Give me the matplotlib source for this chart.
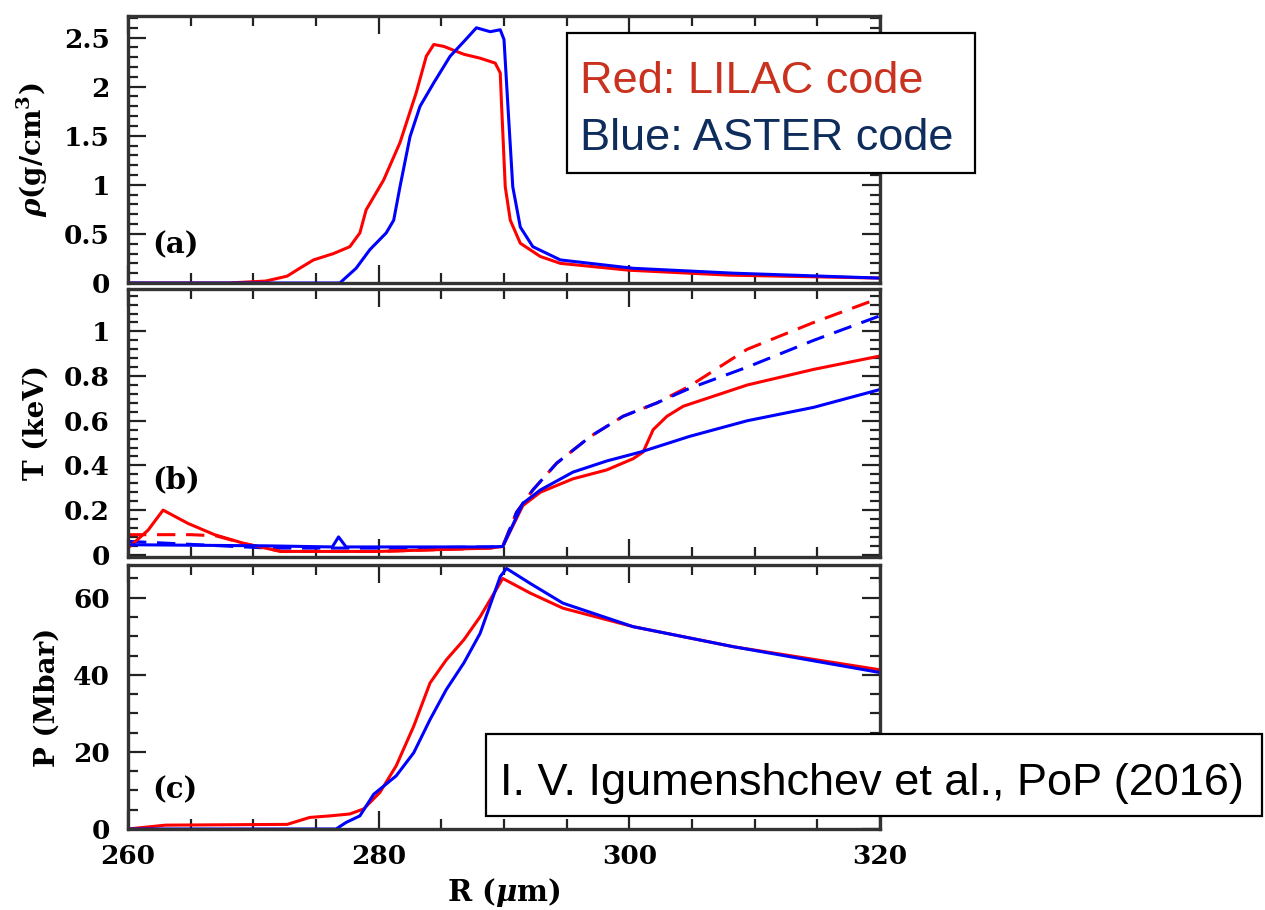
import numpy as np
import matplotlib.pyplot as plt
from matplotlib.ticker import MultipleLocator, FuncFormatter
from matplotlib.patches import Rectangle

# ---- data ----
# (a) density
r_rho_lilac = [260, 268, 271, 272.7, 273.7, 274.8, 276.4, 277.7, 278.5, 279.0, 280.4,
               281.7, 283.0, 283.8, 284.4, 285.2, 286.8, 288.1, 289.3, 289.7, 289.8,
               290.1, 290.5, 291.3, 292.9, 294.5, 300, 308, 320]
rho_lilac = [0, 0, 0.02, 0.07, 0.15, 0.235, 0.30, 0.37, 0.51, 0.745, 1.05,
             1.43, 1.94, 2.31, 2.43, 2.41, 2.33, 2.29, 2.24, 2.14, 1.83,
             0.98, 0.64, 0.405, 0.27, 0.20, 0.13, 0.08, 0.05]
r_rho_aster = [260, 276.9, 278.2, 279.3, 280.6, 281.2, 281.7, 282.5, 283.3, 284.4,
               285.7, 286.8, 287.8, 288.9, 289.7, 290.0, 290.3, 290.7, 291.3, 292.3,
               294.5, 300.3, 308.3, 320]
rho_aster = [0, 0, 0.15, 0.34, 0.51, 0.64, 0.98, 1.49, 1.80, 2.04,
             2.31, 2.46, 2.60, 2.56, 2.58, 2.48, 1.83, 0.98, 0.57, 0.37,
             0.235, 0.15, 0.10, 0.05]

# (b) temperature (solid / dashed)
r_T_lilac = [260, 261.6, 262.8, 264.8, 266.9, 269.3, 272.2, 280, 288.9, 289.9, 291.5,
             292.9, 295.5, 298.2, 300.3, 301.1, 301.9, 303, 304.3, 309.4, 314.7, 320]
T_lilac = [0.03, 0.11, 0.20, 0.14, 0.09, 0.05, 0.015, 0.015, 0.03, 0.037, 0.22,
           0.28, 0.34, 0.38, 0.43, 0.46, 0.56, 0.62, 0.665, 0.76, 0.83, 0.89]
r_T2_lilac = [260, 265, 267, 269.3, 272.2, 280, 288.9, 289.9, 291.0, 292.3, 294.2,
              296.9, 299.5, 302.2, 304.8, 309.4, 314.7, 320]
T2_lilac = [0.09, 0.09, 0.085, 0.05, 0.015, 0.015, 0.03, 0.037, 0.19, 0.29, 0.41,
            0.53, 0.62, 0.68, 0.755, 0.92, 1.04, 1.15]
r_T_aster = [260, 271, 276.3, 276.8, 277.4, 280, 288.9, 289.9, 291.5, 292.9, 295.5,
             298.2, 300.9, 304.8, 309.4, 314.7, 320]
T_aster = [0.045, 0.04, 0.035, 0.08, 0.035, 0.035, 0.035, 0.037, 0.23, 0.29, 0.37,
           0.42, 0.46, 0.53, 0.60, 0.66, 0.74]
r_T2_aster = [260, 271.2, 280, 288.9, 289.9, 291.0, 292.3, 294.2, 296.9, 299.5, 302.2,
              304.8, 309.4, 314.7, 320]
T2_aster = [0.06, 0.03, 0.03, 0.035, 0.037, 0.19, 0.29, 0.41, 0.53, 0.62, 0.68,
            0.745, 0.84, 0.96, 1.07]

# (c) pressure
r_P_lilac = [260, 263, 272.7, 274.5, 276.1, 277.7, 278.8, 280.1, 281.4, 282.8, 284.1,
             285.4, 286.8, 288.1, 289.9, 292.1, 294.7, 300.3, 308.3, 320]
P_lilac = [0, 1, 1.2, 3, 3.4, 3.9, 5.2, 9.5, 16.4, 26.7, 37.9,
           43.9, 49.1, 55.1, 65.0, 61.2, 57.3, 52.5, 47.3, 41.3]
r_P_aster = [260, 276.6, 277.4, 278.5, 279.6, 281.4, 282.8, 284.1, 285.4, 286.8, 288.1,
             289.7, 290.2, 292.1, 294.7, 300.3, 308.3, 320]
P_aster = [0, 0, 1.7, 3.4, 9.0, 13.8, 19.8, 28.4, 36.2, 43.1, 50.8,
           65.5, 67.6, 63.7, 58.6, 52.5, 47.3, 40.6]

SERIF = 'DejaVu Serif'
SANS = 'Liberation Sans'
plt.rcParams.update({
    'font.family': SERIF,
    'font.weight': 'bold',
    'axes.labelweight': 'bold',
    'mathtext.fontset': 'dejavuserif',
    'xtick.labelsize': 19,
    'ytick.labelsize': 19,
    'xtick.major.pad': 11,
    'ytick.major.pad': 13,
    'xtick.direction': 'in',
    'ytick.direction': 'in',
    'xtick.major.size': 13,
    'ytick.major.size': 13,
    'xtick.minor.size': 7,
    'ytick.minor.size': 7,
    'xtick.major.width': 1.6,
    'ytick.major.width': 1.6,
    'xtick.minor.width': 1.6,
    'ytick.minor.width': 1.6,
    'xtick.top': True,
    'ytick.right': True,
})
LW = 2.2
DASH = (0, (6, 3.5))

fig = plt.figure(figsize=(12.65, 9.10), dpi=100)
W, H = 1265, 910
left, width = 128 / W, 752 / W
ax_a = fig.add_axes([left, 1 - 283 / H, width, 267 / H])
ax_b = fig.add_axes([left, 1 - 557 / H, width, 268 / H])
ax_c = fig.add_axes([left, 1 - 829 / H, width, 264 / H])

fmt = FuncFormatter(lambda v, p: '%g' % v)


def style(ax, ymin, ymax, major, minor, label, labx, tag, tagy, xlabels):
    ax.set_xlim(260, 320)
    ax.set_ylim(ymin, ymax)
    ax.xaxis.set_major_locator(MultipleLocator(20))
    ax.xaxis.set_minor_locator(MultipleLocator(5))
    ax.yaxis.set_major_locator(MultipleLocator(major))
    ax.yaxis.set_minor_locator(MultipleLocator(minor))
    ax.yaxis.set_major_formatter(fmt)
    ax.tick_params(which='both', color='#222222')
    ax.tick_params(axis='x', labelbottom=xlabels)
    for s in ax.spines.values():
        s.set_linewidth(2.4)
        s.set_color('#333333')
    ax.set_ylabel(label, fontsize=20, fontweight='bold')
    ax.yaxis.set_label_coords(labx, 0.5)
    ax.text(0.032, tagy, tag, transform=ax.transAxes,
            fontsize=21, fontweight='bold', va='center', ha='left')


ax_a.plot(r_rho_lilac, rho_lilac, color='red', lw=LW)
ax_a.plot(r_rho_aster, rho_aster, color='blue', lw=LW)
style(ax_a, 0, 2.72, 0.5, 0.1, r'$\rho$(g/cm$^3$)', -0.104, '(a)', 0.142, False)

ax_b.plot(r_T2_lilac, T2_lilac, color='red', lw=LW, ls=DASH)
ax_b.plot(r_T2_aster, T2_aster, color='blue', lw=LW, ls=DASH)
ax_b.plot(r_T_lilac, T_lilac, color='red', lw=LW)
ax_b.plot(r_T_aster, T_aster, color='blue', lw=LW)
style(ax_b, -0.01, 1.19, 0.2, 0.04, 'T (keV)', -0.104, '(b)', 0.287, False)

ax_c.plot(r_P_lilac, P_lilac, color='red', lw=LW)
ax_c.plot(r_P_aster, P_aster, color='blue', lw=LW)
style(ax_c, 0, 68.5, 20, 5, 'P (Mbar)', -0.09, '(c)', 0.148, True)
ax_c.set_xlabel(r'R ($\mu$m)', fontsize=21, fontweight='bold', labelpad=5)

# annotation boxes
fig.patches.append(Rectangle((567 / W, 1 - 173 / H), 408 / W, 140 / H,
                             transform=fig.transFigure, fc='white',
                             ec='black', lw=1.6, zorder=5))
fig.text(580 / W, 1 - 93 / H, 'Red: LILAC code', color='#c8321e', fontsize=32.5,
         family=SANS, weight='normal', va='baseline', ha='left', zorder=6)
fig.text(580 / W, 1 - 150 / H, 'Blue: ASTER code', color='#0f2d5c', fontsize=32.5,
         family=SANS, weight='normal', va='baseline', ha='left', zorder=6)

fig.patches.append(Rectangle((486 / W, 1 - 816 / H), 776 / W, 82 / H,
                             transform=fig.transFigure, fc='white',
                             ec='black', lw=1.6, zorder=5))
fig.text(500 / W, 1 - 795 / H, 'I. V. Igumenshchev et al., PoP (2016)', color='black',
         fontsize=32.5, family=SANS, weight='normal', va='baseline', ha='left', zorder=6)

fig.savefig('out.png', dpi=100)
